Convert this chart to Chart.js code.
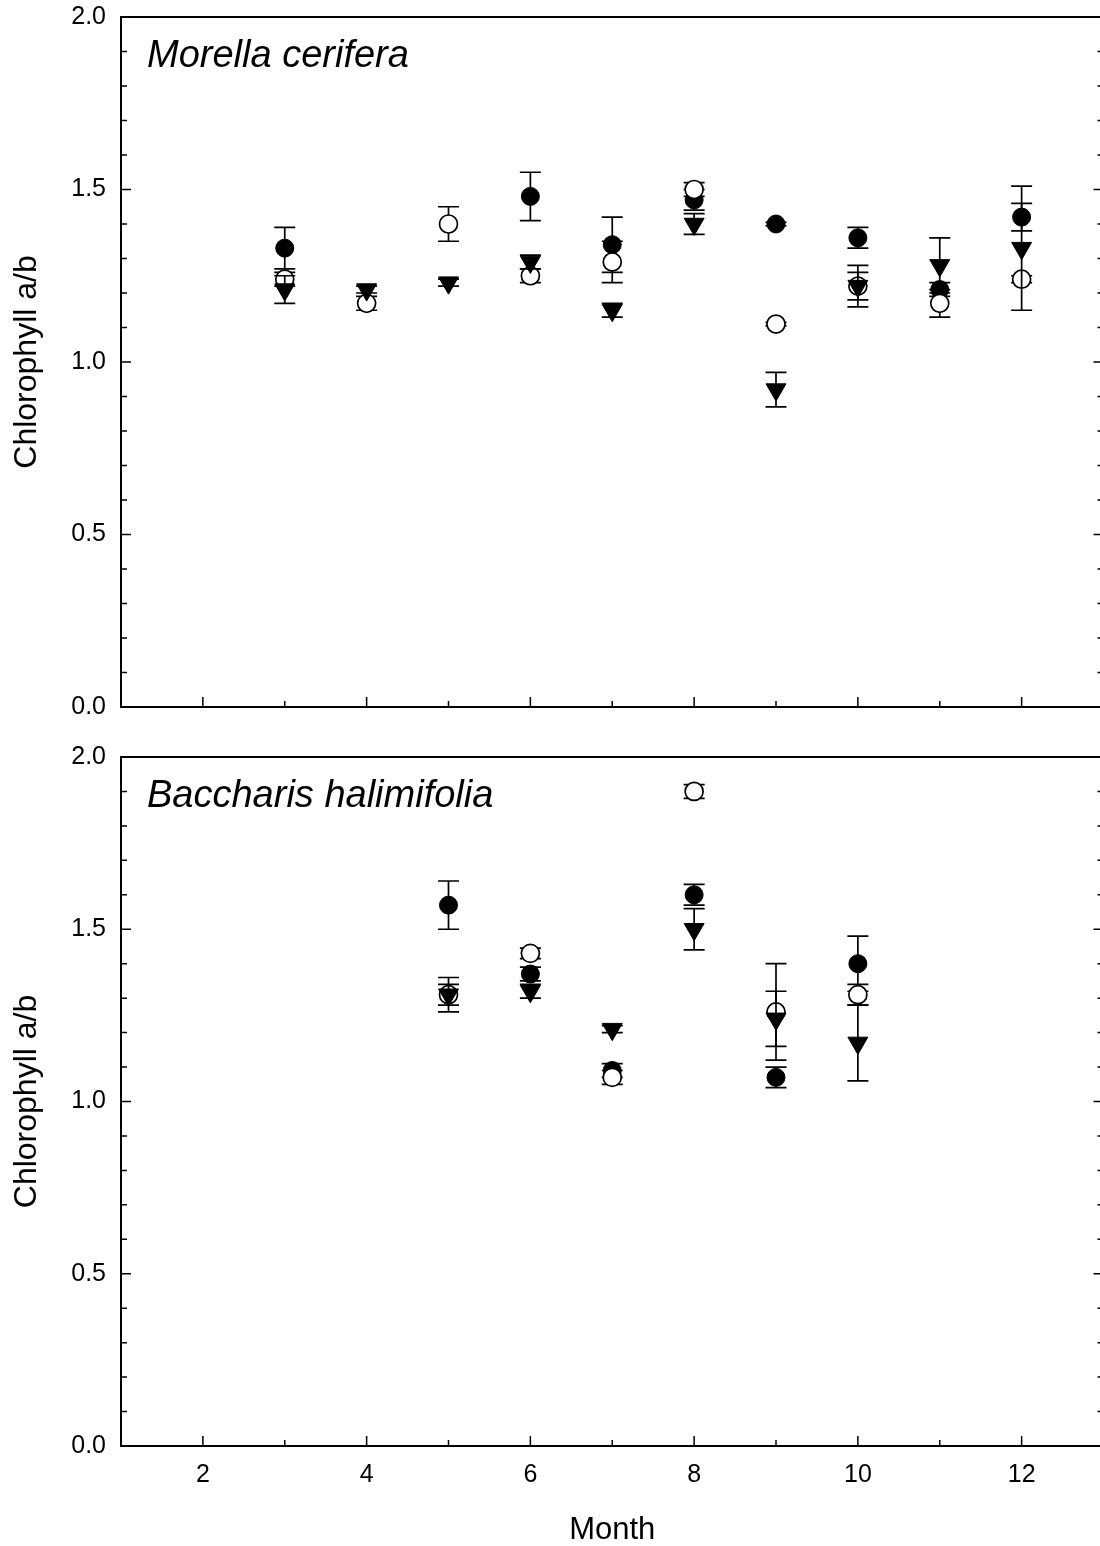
<!DOCTYPE html>
<html>
<head>
<meta charset="utf-8">
<script src="https://cdn.jsdelivr.net/npm/chart.js@4.4.1/dist/chart.umd.min.js"></script>
<style>
  html, body { margin: 0; padding: 0; background: #fff; overflow: hidden; }
  #wrap { position: relative; width: 1100px; height: 1546px; overflow: hidden; }
  .panel { position: absolute; left: 0; width: 1116px; }
  #top { top: 0; height: 740px; }
  #bottom { top: 740px; height: 806px; }
</style>
</head>
<body>
<div id="wrap">
  <div class="panel" id="top"><canvas id="chartTop" width="1116" height="740"></canvas></div>
  <div class="panel" id="bottom"><canvas id="chartBottom" width="1116" height="806"></canvas></div>
</div>
<script>
// Morella cerifera (top panel)
const morellaMonths = [3, 4, 5, 6, 7, 8, 9, 10, 11, 12];
const morellaFilled = [1.33, null, null, 1.48, 1.34, 1.47, 1.40, 1.36, 1.21, 1.42];
const morellaFilledErr = [0.06, null, null, 0.07, 0.08, 0.03, 0.005, 0.03, 0.02, 0.04];
const morellaOpen = [1.24, 1.17, 1.40, 1.25, 1.29, 1.50, 1.11, 1.22, 1.17, 1.24];
const morellaOpenErr = [0.02, 0.02, 0.05, 0.02, 0.06, 0.02, 0.005, 0.04, 0.04, 0.01];
const morellaTri = [1.21, 1.21, 1.23, 1.29, 1.15, 1.40, 0.92, 1.22, 1.28, 1.33];
const morellaTriErr = [0.04, 0.01, 0.01, 0.02, 0.02, 0.03, 0.05, 0.06, 0.08, 0.18];

// Baccharis halimifolia (bottom panel)
const baccharisMonths = [5, 6, 7, 8, 9, 10];
const baccharisFilled = [1.57, 1.37, 1.09, 1.60, 1.07, 1.40];
const baccharisFilledErr = [0.07, 0.02, 0.02, 0.03, 0.03, 0.08];
const baccharisOpen = [1.31, 1.43, 1.07, 1.90, 1.26, 1.31];
const baccharisOpenErr = [0.05, 0.015, 0.02, 0.02, 0.14, 0.03];
const baccharisTri = [1.31, 1.32, 1.21, 1.50, 1.24, 1.17];
const baccharisTriErr = [0.03, 0.02, 0.01, 0.06, 0.08, 0.11];

const xTickLabels = [2, 4, 6, 8, 10, 12];
const yTickLabels = ["0.0", "0.5", "1.0", "1.5", "2.0"];

Chart.defaults.font.family = "'Liberation Sans', Arial, sans-serif";
Chart.defaults.color = "#000";

function points(months, vals, errs) {
  const out = [];
  months.forEach((m, i) => {
    if (vals[i] == null) return;
    out.push({ x: m, y: vals[i], e: errs[i] });
  });
  return out;
}

// error bars drawn just before each dataset's markers
const errorBars = {
  id: "errorBars",
  beforeDatasetDraw(chart, args) {
    const ds = chart.data.datasets[args.index];
    const xs = chart.scales.x, ys = chart.scales.y;
    const ctx = chart.ctx;
    ctx.save();
    ctx.strokeStyle = "#000";
    ctx.lineWidth = 1.7;
    ds.data.forEach((p) => {
      if (!p.e) return;
      const px = xs.getPixelForValue(p.x);
      const top = ys.getPixelForValue(p.y + p.e);
      const bot = ys.getPixelForValue(p.y - p.e);
      ctx.beginPath();
      ctx.moveTo(px, top); ctx.lineTo(px, bot);
      ctx.moveTo(px - 10.5, top); ctx.lineTo(px + 10.5, top);
      ctx.moveTo(px - 10.5, bot); ctx.lineTo(px + 10.5, bot);
      ctx.stroke();
    });
    ctx.restore();
  },
};

// frame + inward major/minor ticks
const frameTicks = {
  id: "frameTicks",
  beforeDatasetsDraw(chart) {
    const { ctx, chartArea: a } = chart;
    const xs = chart.scales.x, ys = chart.scales.y;
    ctx.save();
    ctx.strokeStyle = "#000";
    ctx.lineWidth = 2;
    ctx.strokeRect(a.left, a.top, a.right - a.left, a.bottom - a.top);
    ctx.lineWidth = 1.5;
    ctx.beginPath();
    for (let i = 1; i < 20; i++) {
      const py = ys.getPixelForValue(i / 10);
      const len = i % 5 === 0 ? 10 : 6;
      ctx.moveTo(a.left, py); ctx.lineTo(a.left + len, py);
      ctx.moveTo(a.right, py); ctx.lineTo(a.right - len, py);
    }
    for (let m = 2; m < 13; m++) {
      const px = xs.getPixelForValue(m);
      const len = m % 2 === 0 ? 10 : 6;
      ctx.moveTo(px, a.bottom); ctx.lineTo(px, a.bottom - len);
    }
    ctx.stroke();
    ctx.restore();
  },
};

const speciesLabel = {
  id: "speciesLabel",
  afterDraw(chart, args, opts) {
    const { ctx, chartArea: a } = chart;
    ctx.save();
    ctx.font = "italic 38px 'Liberation Sans', Arial, sans-serif";
    ctx.fillStyle = "#000";
    ctx.textBaseline = "alphabetic";
    ctx.fillText(opts.text, a.left + 26, a.top + 50);
    ctx.restore();
  },
};

function makeChart(id, name, months, filled, filledErr, open, openErr, tri, triErr, showX) {
  return new Chart(document.getElementById(id), {
    type: "scatter",
    data: {
      datasets: [
        {
          data: points(months, filled, filledErr),
          pointStyle: "circle", pointRadius: 9, pointHoverRadius: 9,
          backgroundColor: "#000", borderColor: "#000", borderWidth: 1, order: 3,
        },
        {
          data: points(months, open, openErr),
          pointStyle: "circle", pointRadius: 9, pointHoverRadius: 9,
          backgroundColor: "#fff", borderColor: "#000", borderWidth: 1.7, order: 2,
        },
        {
          data: points(months, tri, triErr),
          pointStyle: "triangle", rotation: 180, pointRadius: 11.5, pointHoverRadius: 11.5,
          backgroundColor: "#000", borderColor: "#000", borderWidth: 1, order: 1,
        },
      ],
    },
    options: {
      responsive: false,
      animation: false,
      layout: { padding: { top: 17, right: 0, left: 0, bottom: 0 } },
      plugins: {
        legend: { display: false },
        tooltip: { enabled: false },
        speciesLabel: { text: name },
      },
      scales: {
        x: {
          type: "linear", min: 1, max: 13,
          grid: { display: false, drawTicks: false, tickLength: 0 }, border: { display: false },
          ticks: {
            display: showX, stepSize: 1, autoSkip: false, maxRotation: 0, padding: 14,
            font: { size: 25 }, color: "#000",
            callback: (v) => (xTickLabels.includes(v) ? String(v) : ""),
          },
          title: { display: showX, text: "Month", font: { size: 31, lineHeight: 1 }, color: "#000", padding: 0 },
          afterFit: (s) => {
            s.height = showX ? 100 : 33;
            s.paddingLeft = 0; s.paddingRight = 0;
          },
        },
        y: {
          min: 0, max: 2,
          grid: { display: false, drawTicks: false, tickLength: 0 }, border: { display: false },
          ticks: {
            stepSize: 0.5, padding: 15, font: { size: 25 }, color: "#000",
            callback: (v) => yTickLabels[Math.round(v * 2)] ?? "",
          },
          title: {
            display: true, text: "Chlorophyll a/b",
            font: { size: 32, lineHeight: 1 }, color: "#000", padding: { top: 11, bottom: 0 },
          },
          afterFit: (s) => {
            s.width = 121;
            s.paddingTop = 0; s.paddingBottom = 0;
          },
        },
      },
    },
    plugins: [frameTicks, errorBars, speciesLabel],
  });
}

makeChart("chartTop", "Morella cerifera", morellaMonths,
  morellaFilled, morellaFilledErr, morellaOpen, morellaOpenErr, morellaTri, morellaTriErr, false);
makeChart("chartBottom", "Baccharis halimifolia", baccharisMonths,
  baccharisFilled, baccharisFilledErr, baccharisOpen, baccharisOpenErr, baccharisTri, baccharisTriErr, true);
</script>
</body>
</html>
